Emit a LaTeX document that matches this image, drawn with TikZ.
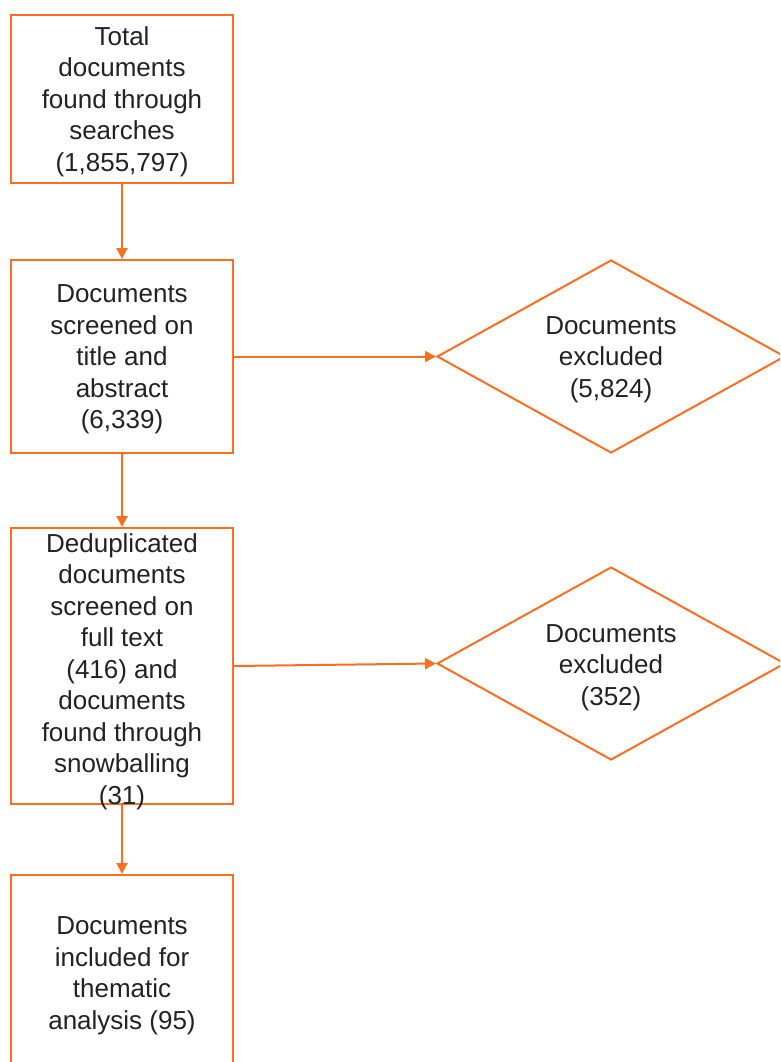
\documentclass[tikz,border=0pt]{standalone}
\usepackage{fontspec}
\setmainfont{Liberation Sans}
\usetikzlibrary{shapes.geometric,arrows.meta}
\definecolor{flow}{HTML}{FF6D1F}
\definecolor{ink}{HTML}{222222}
\begin{document}
\begin{tikzpicture}[x=1pt,y=-1pt,
  box/.style={draw=flow,line width=2pt,rectangle,minimum width=222pt,inner sep=0pt},
  dia/.style={draw=flow,line width=2pt,diamond,minimum width=348pt,minimum height=193pt,inner sep=0pt},
  txt/.style={align=center,font=\fontsize{26}{31.5}\selectfont,text=ink,inner sep=0pt},
  arr/.style={draw=flow,line width=2pt,-{Triangle[length=11pt,width=11pt]}}]
\useasboundingbox (0,0) rectangle (780,1062);
\clip (0,0) rectangle (780,1062);
\node[box,minimum height=168pt] (b1) at (122,99) {};
\node[box,minimum height=193pt] (b2) at (122,356.5) {};
\node[box,minimum height=276pt] (b3) at (122,666) {};
\node[box,minimum height=195pt] (b4) at (122,972.5) {};
\node[dia] (d1) at (611,356.5) {};
\node[dia] (d2) at (611,663.5) {};
\node[txt] (t1) at (122,101.5) {Total\\documents\\found through\\searches\\(1,855,797)};
\node[txt] (t2) at (122,359.5) {Documents\\screened on\\title and\\abstract\\(6,339)};
\node[txt] (t3) at (122,671.5) {Deduplicated\\documents\\screened on\\full text\\(416) and\\documents\\found through\\snowballing\\(31)};
\node[txt] (t4) at (122,975.5) {Documents\\included for\\thematic\\analysis (95)};
\node[txt] (t5) at (611,359.5) {Documents\\excluded\\(5,824)};
\node[txt] (t6) at (611,667.5) {Documents\\excluded\\(352)};
\draw[arr] (b1.south) -- (b2.north);
\draw[arr] (b2.south) -- (b3.north);
\draw[arr] (b2.east) -- (d1.west);
\draw[arr] (b3.east) -- (d2.west);
\draw[arr] (b3.south) -- (b4.north);
\end{tikzpicture}
\end{document}
